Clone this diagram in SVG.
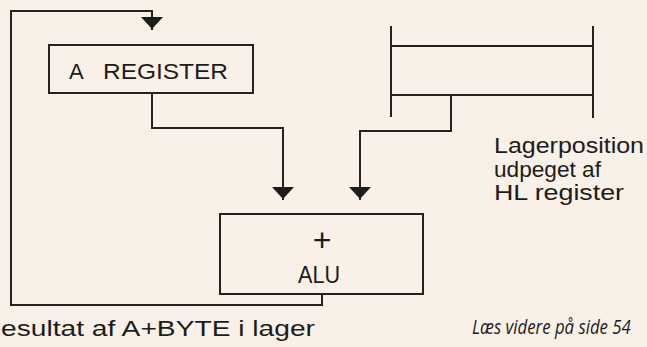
<svg xmlns="http://www.w3.org/2000/svg" width="647" height="347" viewBox="0 0 647 347">
  <style>
    .ln { fill: none; stroke: #222; stroke-width: 2; stroke-linecap: square; }
    .box { fill: none; stroke: #222; stroke-width: 2; }
    .t { font-family: "Liberation Sans", Arial, sans-serif; fill: #1c1c1c; }
    .it { font-family: "Open Sans", "Noto Sans", sans-serif; font-style: italic; fill: #1c1c1c; }
  </style>
  <defs>
    <marker id="down" markerUnits="userSpaceOnUse" markerWidth="24" markerHeight="14" viewBox="0 0 24 14" refX="12" refY="13" orient="0">
      <path d="M1,1 L23,1 L12,13 Z" fill="#1c1c1c"/>
    </marker>
  </defs>
  <rect x="0" y="0" width="647" height="347" fill="#f9f0e7"/>

  <g id="connectors">
    <path class="ln" d="M322,294 V305 H11 V11 H152 V29" marker-end="url(#down)"/>
    <path class="ln" d="M152,93 V128 H283 V199" marker-end="url(#down)"/>
    <path class="ln" d="M451,95 V131 H360 V199" marker-end="url(#down)"/>
  </g>

  <g id="a-register">
    <rect class="box" x="49" y="45" width="204" height="48"/>
    <text class="t" y="79" font-size="22"><tspan x="69">A</tspan><tspan x="103" textLength="125" lengthAdjust="spacingAndGlyphs">REGISTER</tspan></text>
  </g>

  <g id="memory">
    <path class="ln" d="M391,27 V116 M593,27 V117 M391,46 H593 M391,95 H593"/>
  </g>

  <g id="alu">
    <rect class="box" x="220" y="214" width="203" height="80"/>
    <text class="t" x="322" y="251" font-size="32" font-weight="300" text-anchor="middle">+</text>
    <text class="t" x="298" y="283" font-size="24" textLength="42" lengthAdjust="spacingAndGlyphs">ALU</text>
  </g>

  <g id="labels">
    <text class="t" font-size="22">
      <tspan x="494" y="153" textLength="150" lengthAdjust="spacingAndGlyphs">Lagerposition</tspan>
      <tspan x="494" y="177" textLength="107" lengthAdjust="spacingAndGlyphs">udpeget af</tspan>
      <tspan x="494" y="200" textLength="130" lengthAdjust="spacingAndGlyphs">HL register</tspan>
    </text>
    <text class="t" x="1" y="336" font-size="22" textLength="314" lengthAdjust="spacingAndGlyphs">esultat af A+BYTE i lager</text>
    <text class="it" x="562" y="334" font-size="20" transform="scale(0.84,1)">Læs videre på side 54</text>
  </g>
</svg>
